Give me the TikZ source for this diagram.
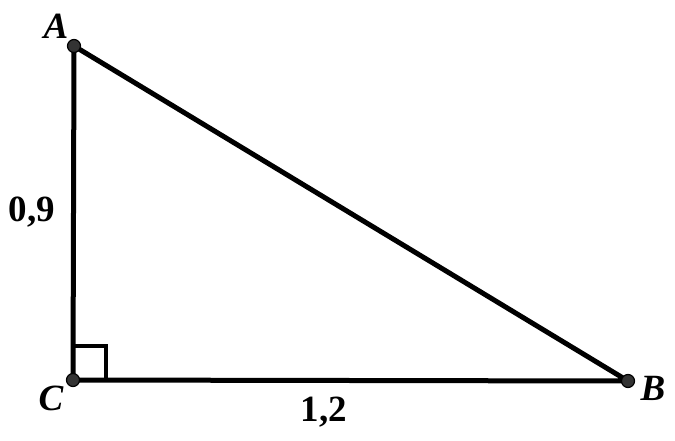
\documentclass[tikz,border=0pt]{standalone}
\usepackage{fontspec}
\setmainfont{Liberation Serif}
\begin{document}
\begin{tikzpicture}[x=1pt,y=-1pt,
  edge/.style={line width=5pt,line cap=round,line join=round},
  dot/.style={circle,fill=black!80,draw=black,line width=1.2pt,minimum size=13pt,inner sep=0pt},
  vlabel/.style={font=\fontsize{37}{37}\selectfont\bfseries\itshape,inner sep=0pt},
  nlabel/.style={font=\fontsize{37}{37}\selectfont\bfseries,inner sep=0pt}]
\useasboundingbox (0,0) rectangle (675,441);
\coordinate (A) at (74,46);
\coordinate (C) at (73,380);
\coordinate (B) at (628,381);
\draw[edge] (A) -- (C) -- (B) -- cycle;
\draw[line width=4.5pt] (73,346) -- (106,346) -- (106,380);
\node[dot] (dA) at (A) {};
\node[dot] (dC) at (C) {};
\node[dot] (dB) at (B) {};
\node[vlabel] (lA) at (56,26) {A};
\node[vlabel] (lC) at (51,398) {C};
\node[vlabel] (lB) at (653,388) {B};
\node[nlabel] (l09) at (32,212) {0,9};
\node[nlabel] (l12) at (324,412) {1,2};
\end{tikzpicture}
\end{document}
